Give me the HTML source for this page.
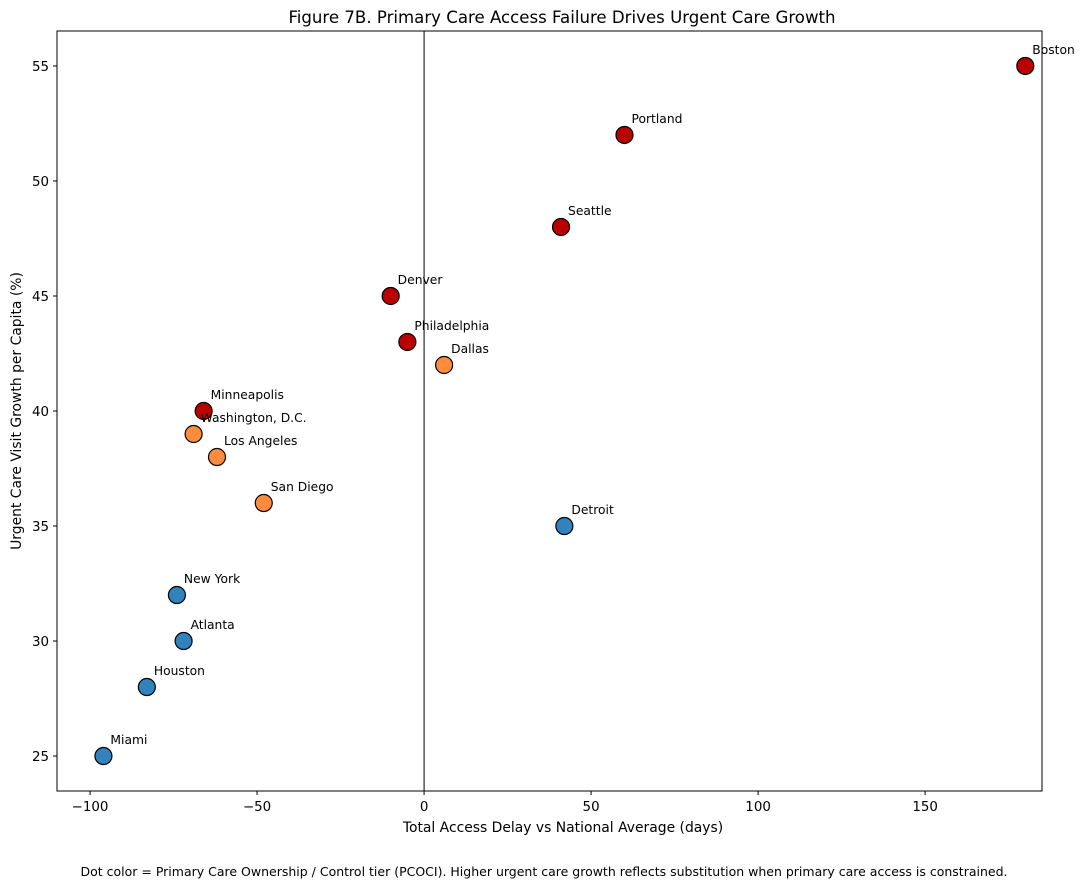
<!DOCTYPE html>
<html><head><meta charset="utf-8"><style>
body{margin:0;background:#fff;font-family:"Liberation Sans","DejaVu Sans",sans-serif}
svg text{font-family:"DejaVu Sans","Liberation Sans",sans-serif}
</style></head><body>
<svg id="chart" width="1083" height="889" xmlns="http://www.w3.org/2000/svg"></svg>
<script>
const cities=["Boston","Portland","Seattle","Denver","Philadelphia","Dallas","Minneapolis","Washington, D.C.","Los Angeles","San Diego","Detroit","New York","Atlanta","Houston","Miami"];
const delays=[180,60,41,-10,-5,6,-66,-69,-62,-48,42,-74,-72,-83,-96];
const growth=[55,52,48,45,43,42,40,39,38,36,35,32,30,28,25];
const tiers=["high","high","high","high","high","mid","high","mid","mid","mid","low","low","low","low","low"];
const xTicks=[-100,-50,0,50,100,150];
const yTicks=[25,30,35,40,45,50,55];
const tierColor={high:"#bb0000",mid:"#fd8d3c",low:"#3182bd"};
const L=57,R=1042,T=31,B=791,xMin=-109.9,xMax=185,yMin=23.48,yMax=56.52;
const sx=v=>L+(v-xMin)/(xMax-xMin)*(R-L);
const sy=v=>B-(v-yMin)/(yMax-yMin)*(B-T);
const svg=document.getElementById('chart');const NS="http://www.w3.org/2000/svg";
function mk(tag,attrs,txt){const e=document.createElementNS(NS,tag);for(const k in attrs)e.setAttribute(k,attrs[k]);if(txt!=null)e.textContent=txt;svg.appendChild(e);return e;}
let e;
e=mk('text',{x:562,y:23,'text-anchor':'middle','font-size':16.6},"Figure 7B. Primary Care Access Failure Drives Urgent Care Growth");


e=mk('line',{x1:sx(0),x2:sx(0),y1:T,y2:B,stroke:'#000','stroke-width':1});


xTicks.forEach(t=>{
 e=mk('line',{x1:sx(t),x2:sx(t),y1:B,y2:B+4,stroke:'#000'});
 
 
 e=mk('text',{x:sx(t),y:B+20,'text-anchor':'middle','font-size':13.4},t<0?'\u2212'+(-t):t);
 
 
});
yTicks.forEach(t=>{
 e=mk('line',{x1:L-4,x2:L,y1:sy(t),y2:sy(t),stroke:'#000'});
 
 
 e=mk('text',{x:L-8,y:sy(t)+5,'text-anchor':'end','font-size':13.4},t);
 
 
});
cities.forEach((c,i)=>{
 const x=sx(delays[i]),y=sy(growth[i]);
 e=mk('circle',{cx:x,cy:y,r:8.5,fill:tierColor[tiers[i]],stroke:'#000','stroke-width':1.2});
 
 
 e=mk('text',{x:x+7,y:y-12,'font-size':12.3},c);
 
 
});
e=mk('rect',{x:L,y:T,width:R-L,height:B-T,fill:'none',stroke:'#000','stroke-width':1});


e=mk('text',{x:563,y:832,'text-anchor':'middle','font-size':13.9},"Total Access Delay vs National Average (days)");


e=mk('text',{x:21,y:(T+B)/2,'text-anchor':'middle','font-size':13.9,transform:`rotate(-90 21 ${(T+B)/2})`},"Urgent Care Visit Growth per Capita (%)");


e=mk('text',{x:544,y:876,'text-anchor':'middle','font-size':12.5},"Dot color = Primary Care Ownership / Control tier (PCOCI). Higher urgent care growth reflects substitution when primary care access is constrained.");


</script>
</body></html>
